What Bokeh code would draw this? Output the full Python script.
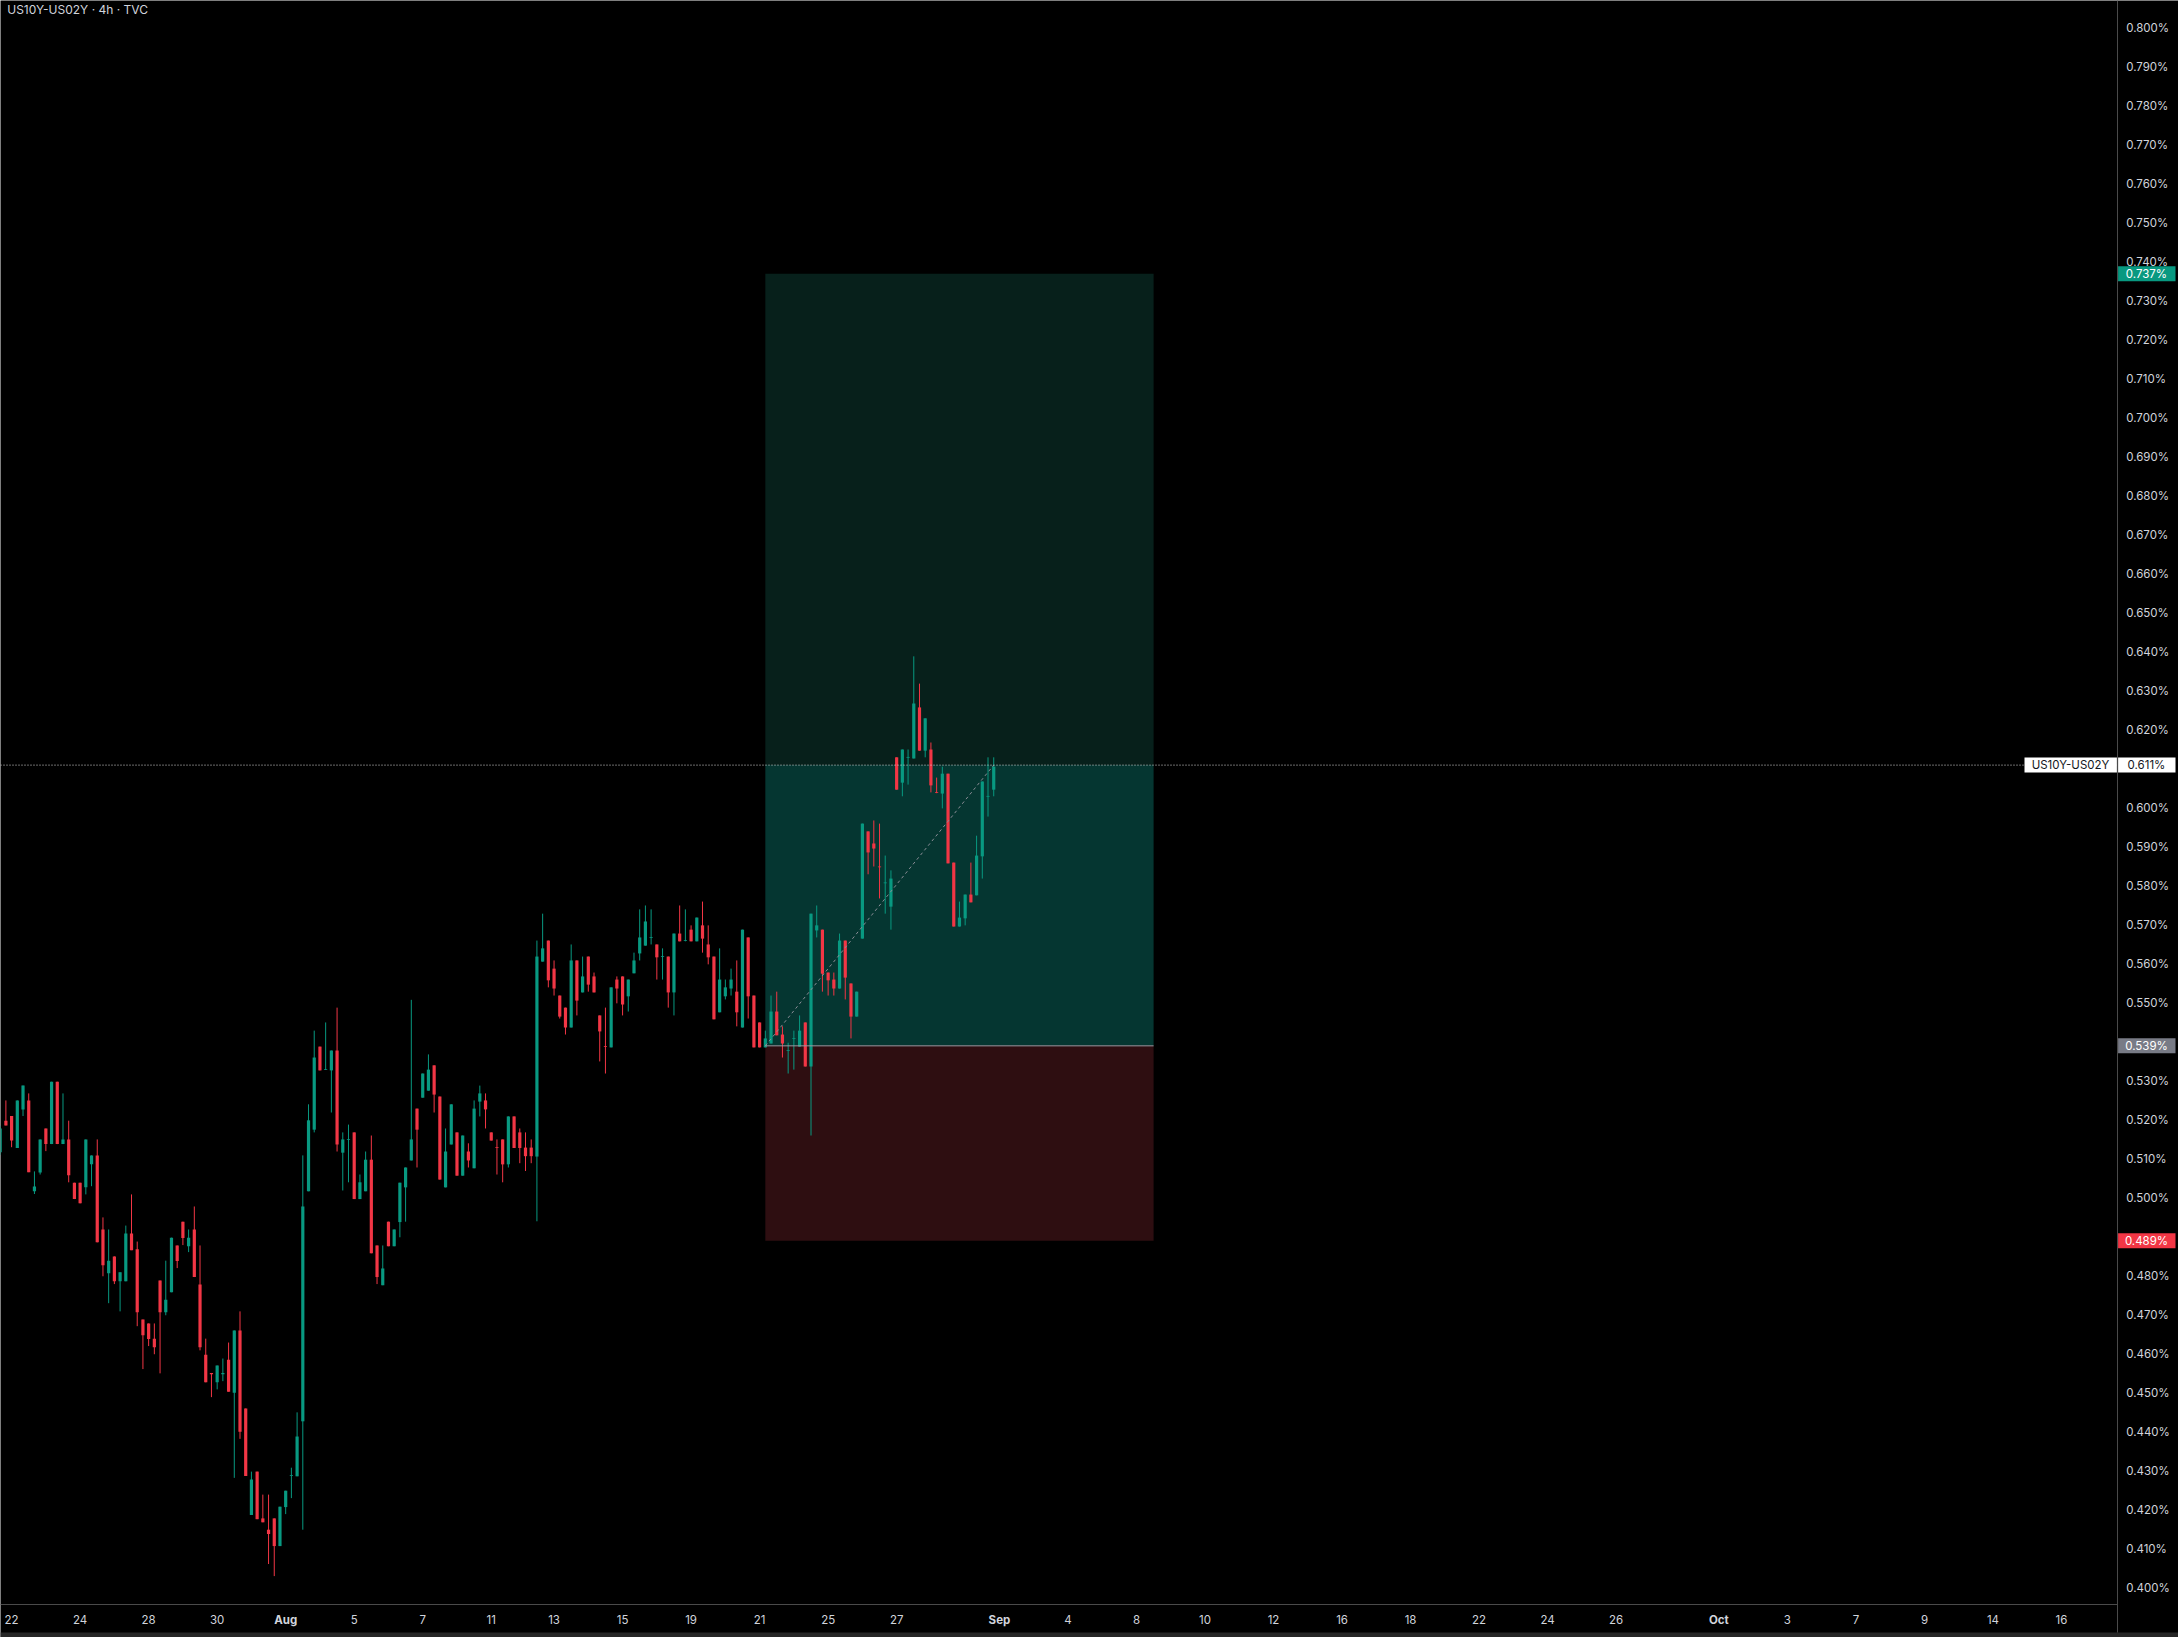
from bokeh.plotting import figure
from bokeh.models import Range1d, Label, ColumnDataSource
from bokeh.core.properties import value
from bokeh.embed import file_html
from bokeh.resources import INLINE

# ---------------- data ----------------
TITLE = "US10Y-US02Y · 4h · TVC"
SYMBOL = "US10Y-US02Y"

bar_index = list(range(-2, 173))
opens = [0.5117, 0.5198, 0.5210, 0.5128, 0.5227, 0.5250, 0.5017, 0.5065, 0.5178, 0.5138,
         0.5298, 0.5138, 0.5150, 0.5039, 0.5039, 0.5027, 0.5086, 0.5109, 0.4919, 0.4807,
         0.4850, 0.4786, 0.4786, 0.4909, 0.4868, 0.4688, 0.4678, 0.4639, 0.4788, 0.4707,
         0.4758, 0.4878, 0.4939, 0.4876, 0.4919, 0.4778, 0.4598, 0.4551, 0.4527, 0.4548,
         0.4585, 0.4500, 0.4660, 0.4460, 0.4187, 0.4298, 0.4178, 0.4149, 0.4178, 0.4107,
         0.4207, 0.4287, 0.4286, 0.4427, 0.5017, 0.5175, 0.5388, 0.5328, 0.5327, 0.5378,
         0.5116, 0.5149, 0.5168, 0.4997, 0.5017, 0.5098, 0.4878, 0.4776, 0.4939, 0.4876,
         0.4938, 0.5027, 0.5096, 0.5229, 0.5257, 0.5275, 0.5340, 0.5260, 0.5027, 0.5137,
         0.5168, 0.5057, 0.5119, 0.5076, 0.5247, 0.5250, 0.5168, 0.5130, 0.5150, 0.5086,
         0.5209, 0.5168, 0.5129, 0.5129, 0.5106, 0.5606, 0.5660, 0.5588, 0.5519, 0.5488,
         0.5437, 0.5609, 0.5527, 0.5619, 0.5568, 0.5468, 0.5389, 0.5386, 0.5560, 0.5568,
         0.5517, 0.5576, 0.5627, 0.5647, 0.5667, 0.5650, 0.5618, 0.5619, 0.5527, 0.5678,
         0.5659, 0.5688, 0.5658, 0.5699, 0.5650, 0.5619, 0.5476, 0.5517, 0.5537, 0.5529,
         0.5437, 0.5668, 0.5519, 0.5450, 0.5386, 0.5396, 0.5478, 0.5419, 0.5377, 0.5408,
         0.5388, 0.5450, 0.5337, 0.5686, 0.5688, 0.5578, 0.5560, 0.5537, 0.5660, 0.5550,
         0.5465, 0.5665, 0.5940, 0.5909, 0.5850, 0.5807, 0.5747, 0.6130, 0.6065, 0.6129,
         0.6127, 0.6258, 0.6147, 0.6150, 0.6041, 0.6037, 0.6088, 0.5860, 0.5696, 0.5717,
         0.5778, 0.5776, 0.5876, 0.6029, 0.6047]
highs = [0.5185, 0.5250, 0.5210, 0.5250, 0.5288, 0.5268, 0.5068, 0.5150, 0.5178, 0.5298,
         0.5298, 0.5268, 0.5198, 0.5039, 0.5039, 0.5150, 0.5109, 0.5150, 0.4950, 0.4919,
         0.4850, 0.4809, 0.4929, 0.5009, 0.4888, 0.4688, 0.4678, 0.4678, 0.4788, 0.4839,
         0.4898, 0.4878, 0.4939, 0.4919, 0.4978, 0.4878, 0.4639, 0.4551, 0.4570, 0.4588,
         0.4629, 0.4660, 0.4709, 0.4460, 0.4298, 0.4298, 0.4239, 0.4239, 0.4178, 0.4208,
         0.4249, 0.4308, 0.4450, 0.5109, 0.5240, 0.5429, 0.5388, 0.5450, 0.5378, 0.5488,
         0.5168, 0.5188, 0.5168, 0.5060, 0.5119, 0.5160, 0.4878, 0.4878, 0.4939, 0.4919,
         0.5039, 0.5078, 0.5508, 0.5229, 0.5319, 0.5368, 0.5340, 0.5260, 0.5178, 0.5240,
         0.5168, 0.5160, 0.5140, 0.5250, 0.5288, 0.5268, 0.5168, 0.5150, 0.5150, 0.5209,
         0.5209, 0.5178, 0.5168, 0.5150, 0.5660, 0.5729, 0.5660, 0.5609, 0.5519, 0.5488,
         0.5650, 0.5609, 0.5619, 0.5619, 0.5578, 0.5468, 0.5488, 0.5540, 0.5568, 0.5568,
         0.5560, 0.5629, 0.5740, 0.5750, 0.5740, 0.5650, 0.5640, 0.5619, 0.5678, 0.5750,
         0.5740, 0.5699, 0.5719, 0.5760, 0.5699, 0.5619, 0.5640, 0.5560, 0.5588, 0.5609,
         0.5688, 0.5668, 0.5519, 0.5450, 0.5429, 0.5519, 0.5529, 0.5440, 0.5398, 0.5429,
         0.5468, 0.5450, 0.5729, 0.5750, 0.5688, 0.5578, 0.5578, 0.5678, 0.5660, 0.5550,
         0.5529, 0.5960, 0.5940, 0.5968, 0.5960, 0.5878, 0.5840, 0.6130, 0.6150, 0.6150,
         0.6389, 0.6319, 0.6230, 0.6168, 0.6078, 0.6106, 0.6088, 0.5860, 0.5760, 0.5778,
         0.5860, 0.5929, 0.6068, 0.6130, 0.6130]
lows = [0.5110, 0.5186, 0.5130, 0.5128, 0.5210, 0.5066, 0.5010, 0.5060, 0.5120, 0.5138,
        0.5138, 0.5138, 0.5040, 0.4997, 0.4986, 0.5009, 0.5030, 0.4886, 0.4799, 0.4730,
        0.4779, 0.4709, 0.4786, 0.4866, 0.4671, 0.4561, 0.4620, 0.4599, 0.4550, 0.4699,
        0.4758, 0.4820, 0.4879, 0.4861, 0.4797, 0.4609, 0.4527, 0.4489, 0.4509, 0.4530,
        0.4503, 0.4282, 0.4382, 0.4287, 0.4187, 0.4176, 0.4168, 0.4061, 0.4030, 0.4107,
        0.4189, 0.4230, 0.4286, 0.4149, 0.5017, 0.5168, 0.5327, 0.5328, 0.5219, 0.5119,
        0.5019, 0.5040, 0.4997, 0.4997, 0.5017, 0.4858, 0.4779, 0.4776, 0.4876, 0.4876,
        0.4899, 0.4939, 0.5096, 0.5078, 0.5257, 0.5275, 0.5219, 0.5047, 0.5027, 0.5137,
        0.5057, 0.5057, 0.5078, 0.5076, 0.5209, 0.5178, 0.5147, 0.5060, 0.5040, 0.5078,
        0.5128, 0.5089, 0.5069, 0.5089, 0.4940, 0.5606, 0.5540, 0.5519, 0.5460, 0.5419,
        0.5437, 0.5468, 0.5527, 0.5529, 0.5527, 0.5350, 0.5319, 0.5386, 0.5499, 0.5468,
        0.5478, 0.5576, 0.5609, 0.5647, 0.5650, 0.5560, 0.5560, 0.5488, 0.5468, 0.5658,
        0.5658, 0.5658, 0.5658, 0.5629, 0.5599, 0.5458, 0.5476, 0.5509, 0.5519, 0.5440,
        0.5437, 0.5460, 0.5386, 0.5386, 0.5386, 0.5396, 0.5417, 0.5360, 0.5319, 0.5329,
        0.5388, 0.5337, 0.5160, 0.5668, 0.5529, 0.5519, 0.5519, 0.5537, 0.5509, 0.5409,
        0.5465, 0.5665, 0.5830, 0.5850, 0.5768, 0.5729, 0.5688, 0.6047, 0.6030, 0.6060,
        0.6127, 0.6147, 0.6130, 0.6040, 0.6038, 0.5999, 0.5858, 0.5696, 0.5696, 0.5699,
        0.5758, 0.5776, 0.5819, 0.5978, 0.6030]
closes = [0.5178, 0.5186, 0.5147, 0.5250, 0.5288, 0.5066, 0.5029, 0.5150, 0.5138, 0.5298,
          0.5138, 0.5150, 0.5058, 0.4997, 0.4986, 0.5150, 0.5109, 0.4886, 0.4827, 0.4839,
          0.4786, 0.4809, 0.4909, 0.4866, 0.4707, 0.4648, 0.4638, 0.4617, 0.4707, 0.4739,
          0.4898, 0.4838, 0.4897, 0.4898, 0.4797, 0.4617, 0.4527, 0.4548, 0.4570, 0.4551,
          0.4503, 0.4660, 0.4400, 0.4287, 0.4278, 0.4176, 0.4168, 0.4138, 0.4107, 0.4208,
          0.4249, 0.4289, 0.4388, 0.4978, 0.5199, 0.5360, 0.5327, 0.5330, 0.5378, 0.5137,
          0.5150, 0.5151, 0.4997, 0.5040, 0.5098, 0.4858, 0.4797, 0.4819, 0.4876, 0.4919,
          0.5039, 0.5078, 0.5150, 0.5175, 0.5319, 0.5329, 0.5265, 0.5047, 0.5119, 0.5240,
          0.5057, 0.5160, 0.5096, 0.5229, 0.5268, 0.5227, 0.5147, 0.5128, 0.5086, 0.5209,
          0.5128, 0.5128, 0.5107, 0.5107, 0.5619, 0.5640, 0.5558, 0.5537, 0.5465, 0.5437,
          0.5609, 0.5506, 0.5568, 0.5547, 0.5527, 0.5427, 0.5387, 0.5540, 0.5537, 0.5496,
          0.5560, 0.5609, 0.5668, 0.5709, 0.5669, 0.5617, 0.5620, 0.5527, 0.5678, 0.5658,
          0.5661, 0.5658, 0.5719, 0.5665, 0.5617, 0.5458, 0.5560, 0.5540, 0.5560, 0.5476,
          0.5688, 0.5517, 0.5386, 0.5386, 0.5409, 0.5478, 0.5417, 0.5396, 0.5379, 0.5410,
          0.5429, 0.5337, 0.5729, 0.5699, 0.5575, 0.5558, 0.5537, 0.5660, 0.5565, 0.5465,
          0.5529, 0.5960, 0.5886, 0.5896, 0.5848, 0.5809, 0.5819, 0.6047, 0.6150, 0.6131,
          0.6268, 0.6147, 0.6230, 0.6058, 0.6039, 0.6088, 0.5858, 0.5696, 0.5719, 0.5778,
          0.5758, 0.5878, 0.6068, 0.6031, 0.6106]

tick_bars = [0, 12, 24, 36, 48, 60, 72, 84, 95, 107, 119, 131, 143, 155, 173, 185, 197, 209,
             221, 233, 245, 257, 269, 281, 299, 311, 323, 335, 347, 359]
tick_labels = ["22", "24", "28", "30", "Aug", "5", "7", "11", "13", "15", "19", "21", "25", "27",
               "Sep", "4", "8", "10", "12", "16", "18", "22", "24", "26", "Oct", "3", "7", "9",
               "14", "16"]
month_names = ["Aug", "Sep", "Oct"]

price_ticks = [0.40, 0.41, 0.42, 0.43, 0.44, 0.45, 0.46, 0.47, 0.48, 0.50, 0.51, 0.52, 0.53,
               0.55, 0.56, 0.57, 0.58, 0.59, 0.60, 0.62, 0.63, 0.64, 0.65, 0.66, 0.67, 0.68,
               0.69, 0.70, 0.71, 0.72, 0.73, 0.74, 0.75, 0.76, 0.77, 0.78, 0.79, 0.80]
price_tick_labels = [f"{t:.3f}%" for t in price_ticks]

entry_price = 0.539
target_price = 0.737
stop_price = 0.489
last_price = 0.611
position_start_bar = 132
position_end_bar = 200
last_bar = 172

# ---------------- styling / layout ----------------
GREEN = "#089981"
RED = "#F23645"
GREY = "#787b86"
TXT = "#d1d4dc"
DARK = "#131722"
FONT = "Inter"
AXCOL = "#4a4a4a"
FS = "11.5px"

W, H = 2178, 1637
XS = 5.71          # px per bar
YS = 3899.0        # px per price unit
X0 = -11.1 / XS    # left edge (bars)
X1 = X0 + W / XS   # right edge
Y1 = 0.800 + 27.7 / YS   # top edge (price)
Y0 = Y1 - H / YS         # bottom edge


def bx(px):
    """horizontal pixel offset from left -> bars"""
    return X0 + px / XS


def py(px):
    """vertical pixel offset from top -> price"""
    return Y1 - px / YS


AXIS_X = bx(2117)       # price-scale border
AXIS_Y = py(1604)       # time-scale border
HALF_BADGE = 7.5 / YS   # half badge height in price units

p = figure(width=W, height=H, x_range=Range1d(X0, X1), y_range=Range1d(Y0, Y1),
           output_backend="svg", toolbar_location=None,
           x_axis_location=None, y_axis_location=None,
           background_fill_color="black", border_fill_color="black",
           min_border=0, outline_line_color=None)
p.grid.visible = False

# position tool boxes
p.quad(left=[position_start_bar], right=[position_end_bar], bottom=[last_price],
       top=[target_price], fill_color="#07201b", line_color=None)
p.quad(left=[position_start_bar], right=[position_end_bar], bottom=[entry_price],
       top=[last_price], fill_color="#053631", line_color=None)
p.quad(left=[position_start_bar], right=[position_end_bar], bottom=[stop_price],
       top=[entry_price], fill_color="#2e0e11", line_color=None)

# candles
colors = [GREEN if c >= o else RED for o, c in zip(opens, closes)]
src = ColumnDataSource(dict(
    x=bar_index, o=opens, h=highs, l=lows, c=closes, col=colors,
    top=[max(o, c) for o, c in zip(opens, closes)],
    bot=[min(o, c) for o, c in zip(opens, closes)]))
p.segment(x0="x", y0="h", x1="x", y1="l", line_color="col", line_width=1, source=src)
p.vbar(x="x", width=0.56, top="top", bottom="bot", fill_color="col", line_color=None,
       source=src)

# entry line and trend dashed line
p.segment(x0=[position_start_bar], x1=[position_end_bar], y0=[entry_price], y1=[entry_price],
          line_color="#9a9ca3", line_width=1)
p.line([position_start_bar, last_bar], [entry_price, last_price], line_color="#8a8d96",
       line_width=1, line_dash="3 3")

# current price line
p.segment(x0=[X0], x1=[AXIS_X], y0=[last_price], y1=[last_price], line_color="#d8d8d8",
          line_width=1, line_dash="1 2")

# scale borders and bottom strip
p.quad(left=[X0], right=[X1], bottom=[Y0], top=[py(1632)], fill_color="#262626",
       line_color=None)
p.segment(x0=[AXIS_X], x1=[AXIS_X], y0=[py(1632)], y1=[Y1], line_color=AXCOL, line_width=1)
p.segment(x0=[X0], x1=[AXIS_X], y0=[AXIS_Y], y1=[AXIS_Y], line_color=AXCOL, line_width=1)

# price scale labels
p.text(x=[AXIS_X + 8.7 / XS] * len(price_ticks), y=price_ticks, text=price_tick_labels,
       text_align="left", text_baseline="middle", text_color=TXT,
       text_font=value(FONT), text_font_size=value(FS))

# time scale labels
p.text(x=tick_bars, y=[py(1619)] * len(tick_bars), text=tick_labels,
       text_align="center", text_baseline="middle", text_color=TXT,
       text_font=value(FONT), text_font_size=value(FS),
       text_font_style=["bold" if t in month_names else "normal" for t in tick_labels])

# title
p.add_layout(Label(x=bx(6.7), y=py(8.5), text=TITLE, text_align="left",
                   text_baseline="middle", text_color=TXT, text_font=FONT,
                   text_font_size="12px"))

# price badges on the scale
badge_prices = [target_price, entry_price, stop_price, last_price]
badge_fill = [GREEN, GREY, RED, "white"]
badge_text = ["white", "white", "white", DARK]
p.quad(left=[AXIS_X + 0.6 / XS] * 4, right=[bx(2175)] * 4,
       bottom=[b - HALF_BADGE for b in badge_prices],
       top=[b + HALF_BADGE for b in badge_prices],
       fill_color=badge_fill, line_color=None)
p.text(x=[bx(2146)] * 4, y=badge_prices, text=[f"{b:.3f}%" for b in badge_prices],
       text_align="center", text_baseline="middle", text_color=badge_text,
       text_font=value(FONT), text_font_size=value(FS))

# symbol badge next to the current price
p.quad(left=[bx(2024)], right=[AXIS_X - 0.6 / XS], bottom=[last_price - HALF_BADGE],
       top=[last_price + HALF_BADGE], fill_color="white", line_color=None)
p.text(x=[bx(2070)], y=[last_price], text=[SYMBOL], text_align="center",
       text_baseline="middle", text_color=DARK, text_font=value(FONT),
       text_font_size=value(FS))

open("out.html", "w").write(file_html(p, INLINE))
